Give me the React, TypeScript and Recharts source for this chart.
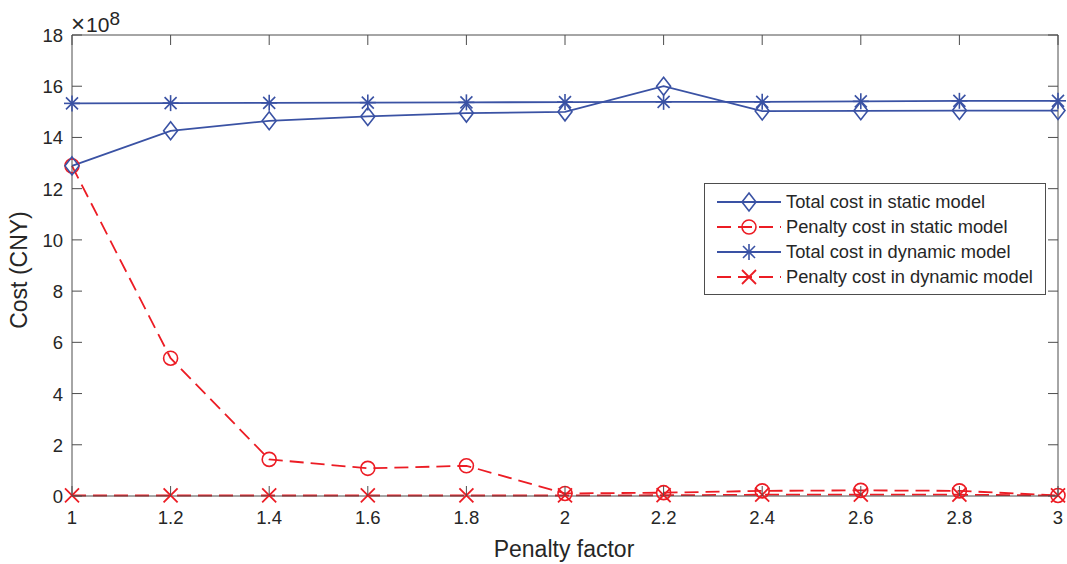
import { LineChart, Line, XAxis, YAxis, ReferenceLine } from 'recharts'

const factors = [1, 1.2, 1.4, 1.6, 1.8, 2, 2.2, 2.4, 2.6, 2.8, 3]
const totalStatic = [12.89, 14.26, 14.65, 14.82, 14.95, 15.0, 16.0, 15.03, 15.04, 15.05, 15.05]
const penaltyStatic = [12.89, 5.38, 1.43, 1.08, 1.18, 0.1, 0.13, 0.2, 0.22, 0.2, 0.02]
const totalDynamic = [15.33, 15.34, 15.35, 15.36, 15.37, 15.38, 15.39, 15.39, 15.41, 15.43, 15.43]
const penaltyDynamic = [0.02, 0.02, 0.02, 0.02, 0.02, 0.02, 0.03, 0.05, 0.05, 0.05, 0.02]
const xTicks = [1, 1.2, 1.4, 1.6, 1.8, 2, 2.2, 2.4, 2.6, 2.8, 3]
const yTicks = [0, 2, 4, 6, 8, 10, 12, 14, 16, 18]

const W = 1067
const H = 564
const LEFT = 72
const RIGHT = 1058
const TOP = 35
const BOTTOM = 496
const AXIS_W = 30
const BLUE = '#3a52a4'
const RED = '#ec1c24'
const AXIS = '#4d4d4d'
const TEXT = '#262626'
const FONT = '"Liberation Sans", Arial, sans-serif'

const data = factors.map((f, i) => ({
  f,
  totalStatic: totalStatic[i],
  penaltyStatic: penaltyStatic[i],
  totalDynamic: totalDynamic[i],
  penaltyDynamic: penaltyDynamic[i],
}))

const Diamond = ({ cx, cy, color }: { cx: number; cy: number; color: string }) => (
  <path d={`M${cx},${cy - 9} L${cx + 7},${cy} L${cx},${cy + 9} L${cx - 7},${cy} Z`} fill="none" stroke={color} strokeWidth={1.6} />
)
const Circle = ({ cx, cy, color }: { cx: number; cy: number; color: string }) => (
  <circle cx={cx} cy={cy} r={7} fill="none" stroke={color} strokeWidth={1.6} />
)
const Star = ({ cx, cy, color }: { cx: number; cy: number; color: string }) => (
  <g stroke={color} strokeWidth={1.6}>
    <line x1={cx - 8} y1={cy} x2={cx + 8} y2={cy} />
    <line x1={cx} y1={cy - 8} x2={cx} y2={cy + 8} />
    <line x1={cx - 6} y1={cy - 6} x2={cx + 6} y2={cy + 6} />
    <line x1={cx - 6} y1={cy + 6} x2={cx + 6} y2={cy - 6} />
  </g>
)
const Cross = ({ cx, cy, color }: { cx: number; cy: number; color: string }) => (
  <g stroke={color} strokeWidth={1.8}>
    <line x1={cx - 7} y1={cy - 7} x2={cx + 7} y2={cy + 7} />
    <line x1={cx - 7} y1={cy + 7} x2={cx + 7} y2={cy - 7} />
  </g>
)

const XTick = (props: any) => {
  const { x, payload } = props
  return (
    <g>
      <line x1={x} y1={BOTTOM} x2={x} y2={BOTTOM - 10} stroke={AXIS} />
      <line x1={x} y1={TOP} x2={x} y2={TOP + 10} stroke={AXIS} />
      <text x={x} y={BOTTOM + 28} textAnchor="middle" fill={TEXT} fontSize={18.5} fontFamily={FONT}>
        {payload.value}
      </text>
    </g>
  )
}

const YTick = (props: any) => {
  const { y, payload } = props
  return (
    <g>
      <line x1={LEFT} y1={y} x2={LEFT + 10} y2={y} stroke={AXIS} />
      <line x1={RIGHT} y1={y} x2={RIGHT - 10} y2={y} stroke={AXIS} />
      <text x={LEFT - 9} y={y + 7} textAnchor="end" fill={TEXT} fontSize={18.5} fontFamily={FONT}>
        {payload.value}
      </text>
    </g>
  )
}

const legendItems = [
  { label: 'Total cost in static model', color: BLUE, dash: undefined, M: Diamond },
  { label: 'Penalty cost in static model', color: RED, dash: '14 7', M: Circle },
  { label: 'Total cost in dynamic model', color: BLUE, dash: undefined, M: Star },
  { label: 'Penalty cost in dynamic model', color: RED, dash: '14 7', M: Cross },
]

export default function App() {
  return (
    <div style={{ position: 'absolute', left: 0, top: 0, width: W, height: H, background: '#fff' }}>
      <LineChart
        width={W}
        height={H}
        data={data}
        margin={{ top: TOP, right: W - RIGHT, bottom: H - BOTTOM - AXIS_W, left: LEFT - AXIS_W }}
      >
        <XAxis
          dataKey="f"
          type="number"
          domain={[1, 3]}
          ticks={xTicks}
          height={AXIS_W}
          tick={<XTick />}
          tickLine={false}
          axisLine={{ stroke: AXIS }}
          interval={0}
        />
        <YAxis
          type="number"
          domain={[0, 18]}
          ticks={yTicks}
          width={AXIS_W}
          tick={<YTick />}
          tickLine={false}
          axisLine={{ stroke: AXIS }}
          interval={0}
        />
        <ReferenceLine y={18} stroke={AXIS} />
        <ReferenceLine x={3} stroke={AXIS} />
        <Line
          dataKey="penaltyDynamic"
          stroke={RED}
          strokeWidth={1.8}
          strokeDasharray="14 7"
          isAnimationActive={false}
          dot={(p: any) => <Cross key={p.index} cx={p.cx} cy={p.cy} color={RED} />}
        />
        <Line
          dataKey="penaltyStatic"
          stroke={RED}
          strokeWidth={1.8}
          strokeDasharray="14 7"
          isAnimationActive={false}
          dot={(p: any) => <Circle key={p.index} cx={p.cx} cy={p.cy} color={RED} />}
        />
        <Line
          dataKey="totalDynamic"
          stroke={BLUE}
          strokeWidth={1.8}
          isAnimationActive={false}
          dot={(p: any) => <Star key={p.index} cx={p.cx} cy={p.cy} color={BLUE} />}
        />
        <Line
          dataKey="totalStatic"
          stroke={BLUE}
          strokeWidth={1.8}
          isAnimationActive={false}
          dot={(p: any) => <Diamond key={p.index} cx={p.cx} cy={p.cy} color={BLUE} />}
        />
        <text x={564} y={557} textAnchor="middle" fill={TEXT} fontSize={23} fontFamily={FONT}>
          Penalty factor
        </text>
        <text
          x={27}
          y={270}
          textAnchor="middle"
          fill={TEXT}
          fontSize={23}
          fontFamily={FONT}
          transform="rotate(-90 27 270)"
        >
          Cost (CNY)
        </text>
        <text x={71} y={32} fill={TEXT} fontSize={21} fontFamily={FONT}>
          <tspan fontSize={24}>×</tspan>
          <tspan dx={1}>10</tspan>
          <tspan dy={-7} fontSize={19}>8</tspan>
        </text>
      </LineChart>
      <div
        style={{
          position: 'absolute',
          left: 704,
          top: 183,
          width: 342,
          height: 112,
          border: `1px solid ${AXIS}`,
          background: '#fff',
          boxSizing: 'border-box',
        }}
      >
        <svg width={340} height={110}>
          {legendItems.map((it, i) => {
            const y = 18 + i * 25
            return (
              <g key={it.label}>
                <line x1={12} y1={y} x2={76} y2={y} stroke={it.color} strokeWidth={1.8} strokeDasharray={it.dash} />
                <it.M cx={44} cy={y} color={it.color} />
                <text x={81} y={y + 6} fill={TEXT} fontSize={18.3} fontFamily={FONT}>
                  {it.label}
                </text>
              </g>
            )
          })}
        </svg>
      </div>
    </div>
  )
}
